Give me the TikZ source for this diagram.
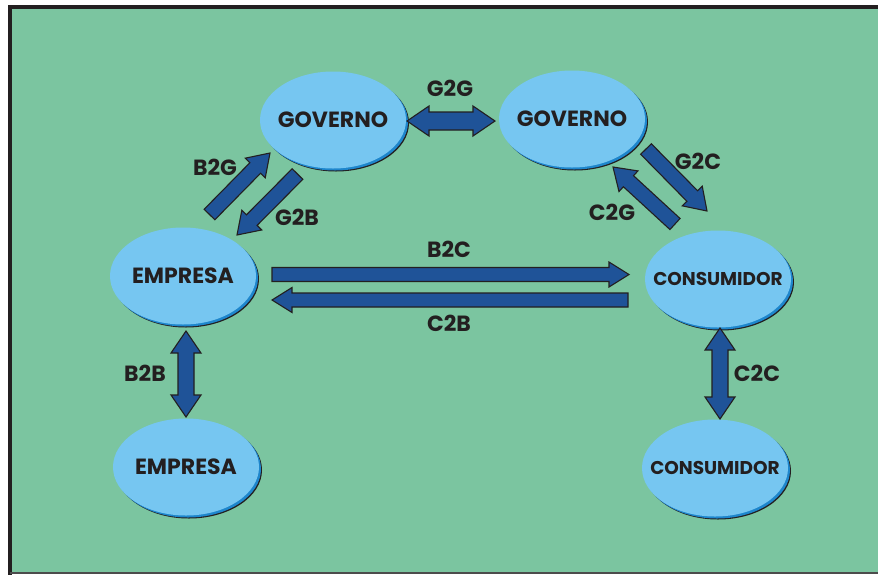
\documentclass[tikz,border=0pt]{standalone}
\usepackage{fontspec}
\setmainfont{Poppins}
\usetikzlibrary{shapes.geometric,calc}

\definecolor{bggreen}{HTML}{7BC5A0}
\definecolor{ellblue}{HTML}{76C6F1}
\definecolor{shadeblue}{HTML}{1E86CC}
\definecolor{arrowblue}{HTML}{1F5398}
\definecolor{inkblack}{HTML}{231F20}

\tikzset{
  party/.style={ellipse, fill=ellblue, minimum width=146pt, minimum height=97pt,
    inner sep=0pt, text=inkblack, font=\bfseries\fontsize{22}{22}\selectfont,
    preaction={fill=inkblack, transform canvas={shift={(3pt,-3pt)}}},
    preaction={fill=shadeblue, transform canvas={shift={(2pt,-2pt)}}}},
  smallparty/.style={party, font=\bfseries\fontsize{18.5}{18.5}\selectfont},
  flow/.style={fill=arrowblue, draw=inkblack, line width=1.1pt, line join=miter},
  tag/.style={text=inkblack, font=\bfseries\fontsize{22}{22}\selectfont, inner sep=0pt}
}

% names drawn inside an ellipse without widening it
\newcommand\partyname[1]{\makebox[0pt]{#1}}

% block arrow from #4 to #5; #1 = shaft half width, #2 = head half width, #3 = head length
\newcommand\onearrow[5]{%
  \coordinate (hb) at ($(#5)!#3!(#4)$);
  \draw[flow] ($(#4)!#1!90:(#5)$) -- ($(hb)!#1!-90:(#4)$) -- ($(hb)!#2!-90:(#4)$)
    -- (#5) -- ($(hb)!#2!90:(#4)$) -- ($(hb)!#1!90:(#4)$) -- ($(#4)!#1!-90:(#5)$) -- cycle;
}
\newcommand\twoarrow[5]{%
  \coordinate (ha) at ($(#4)!#3!(#5)$);
  \coordinate (hb) at ($(#5)!#3!(#4)$);
  \draw[flow] (#4) -- ($(ha)!#2!-90:(#5)$) -- ($(ha)!#1!-90:(#5)$) -- ($(hb)!#1!90:(#4)$)
    -- ($(hb)!#2!90:(#4)$) -- (#5) -- ($(hb)!#2!-90:(#4)$) -- ($(hb)!#1!-90:(#4)$)
    -- ($(ha)!#1!90:(#5)$) -- ($(ha)!#2!90:(#5)$) -- cycle;
}

\begin{document}
\begin{tikzpicture}[x=1pt,y=-1pt]
  % page and panel
  \fill[white] (0,0) rectangle (878,574);
  \useasboundingbox (0,0) rectangle (878,574);
  \fill[bggreen] (10,7) rectangle (880,573);
  \draw[inkblack, line width=4pt] (10,575) -- (10,7) -- (880,7);
  \draw[black!70, line width=1.5pt] (10,573) -- (880,573);

  % parties
  \node[party] (gov1) at (333,120) {\partyname{GOVERNO}};
  \node[party] (gov2) at (572,119) {\partyname{GOVERNO}};
  \node[party] (emp1) at (183,276) {\partyname{EMPRESA}};
  \node[smallparty] (con1) at (718,279) {\partyname{CONSUMIDOR}};
  \node[party] (emp2) at (186,467) {\partyname{EMPRESA}};
  \node[smallparty] (con2) at (715,468) {\partyname{CONSUMIDOR}};

  % arrow ends
  \coordinate (g2g-a) at (407,121);  \coordinate (g2g-b) at (495,121);
  \coordinate (b2g-a) at (209.5,214.5); \coordinate (b2g-b) at (270,153);
  \coordinate (g2b-a) at (297.5,174); \coordinate (g2b-b) at (237,235);
  \coordinate (g2c-a) at (646,149);  \coordinate (g2c-b) at (707,211);
  \coordinate (c2g-a) at (675,224);  \coordinate (c2g-b) at (613,167);
  \coordinate (b2c-a) at (272,274.5); \coordinate (b2c-b) at (629,274.5);
  \coordinate (c2b-a) at (628,300);  \coordinate (c2b-b) at (272,300);
  \coordinate (b2b-a) at (186,331);  \coordinate (b2b-b) at (186,417);
  \coordinate (c2c-a) at (720,328);  \coordinate (c2c-b) at (720,419);

  % flows
  \twoarrow{9pt}{15pt}{22pt}{g2g-a}{g2g-b}
  \onearrow{7.5pt}{14pt}{21pt}{b2g-a}{b2g-b}
  \onearrow{7.5pt}{14pt}{21pt}{g2b-a}{g2b-b}
  \onearrow{7.5pt}{14pt}{21pt}{g2c-a}{g2c-b}
  \onearrow{7.5pt}{14pt}{21pt}{c2g-a}{c2g-b}
  \onearrow{7pt}{12.5pt}{20pt}{b2c-a}{b2c-b}
  \onearrow{7pt}{12.5pt}{20pt}{c2b-a}{c2b-b}
  \twoarrow{8pt}{15pt}{22pt}{b2b-a}{b2b-b}
  \twoarrow{8pt}{15pt}{22pt}{c2c-a}{c2c-b}

  % labels
  \node[tag] (l-g2g) at (450,88) {G2G};
  \node[tag] (l-b2g) at (215,167) {B2G};
  \node[tag] (l-g2b) at (297,217) {G2B};
  \node[tag] (l-g2c) at (698,161) {G2C};
  \node[tag] (l-c2g) at (612,212) {C2G};
  \node[tag] (l-b2c) at (449,249) {B2C};
  \node[tag] (l-c2b) at (449,323) {C2B};
  \node[tag] (l-b2b) at (145,373) {B2B};
  \node[tag] (l-c2c) at (757,373) {C2C};
\end{tikzpicture}
\end{document}
